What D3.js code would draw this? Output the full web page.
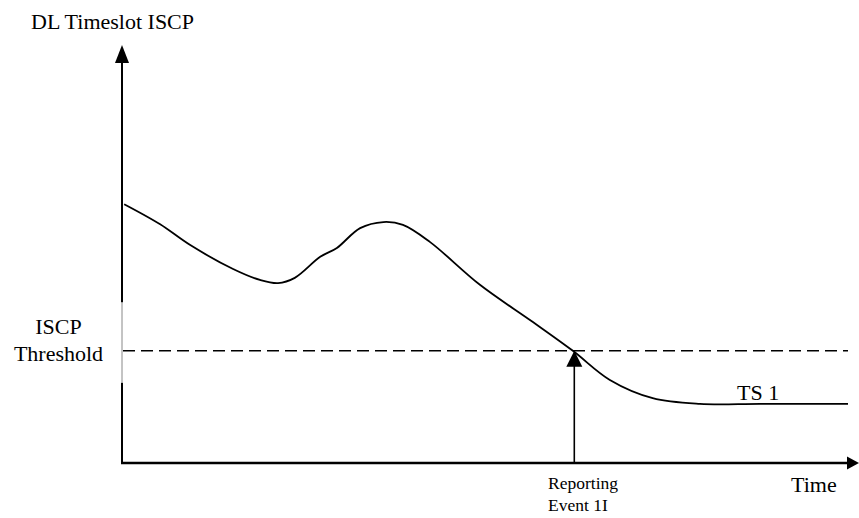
<!DOCTYPE html>
<html><head><meta charset="utf-8">
<script src="https://cdn.jsdelivr.net/npm/d3@7"></script>
<style>body{margin:0;background:#fff}svg{display:block}</style>
</head><body><svg id="c" width="859" height="518"></svg>
<script>
// data (time in %, ISCP in % of axis height)
const times = [0.3, 5.2, 9.4, 15.3, 19.0, 21.5, 23.8, 27.3, 29.6, 32.8, 36.0, 38.7, 42.4, 49.3, 56.6, 62.1, 67.2, 73.1, 79.6, 87.9, 100];
const iscp  = [63.9, 59.0, 53.8, 47.9, 45.2, 44.4, 45.7, 50.9, 53.1, 58.0, 59.5, 58.8, 54.6, 44.0, 34.8, 27.7, 20.5, 16.0, 14.6, 14.6, 14.6];
const threshold = 27.7;
const eventTime = 62.3;
const axisGap = [19.8, 39.7];
const labels = {y: "DL Timeslot ISCP", x: "Time", series: "TS 1", thr: ["ISCP", "Threshold"], ev: ["Reporting", "Event 1I"]};

const FONT = "Liberation Serif";
const svg = d3.select("#c");
const x = d3.scaleLinear().domain([0, 100]).range([122, 848]);
const y = d3.scaleLinear().domain([0, 100]).range([463, 58]);

// y axis
svg.append("line").attr("x1", x(0)).attr("x2", x(0)).attr("y1", y(0)+1).attr("y2", y(axisGap[0])).attr("stroke", "#000").attr("stroke-width", 2);
svg.append("line").attr("x1", x(0)).attr("x2", x(0)).attr("y1", y(axisGap[0])).attr("y2", y(axisGap[1])).attr("stroke", "#888").attr("stroke-width", 1);
svg.append("line").attr("x1", x(0)).attr("x2", x(0)).attr("y1", y(axisGap[1])).attr("y2", y(100)).attr("stroke", "#000").attr("stroke-width", 2);
svg.append("path").attr("d", `M${x(0)},${y(100)-13} L${x(0)-7},${y(100)+5} L${x(0)+7},${y(100)+5} Z`).attr("fill", "#000");

// x axis
svg.append("line").attr("x1", x(0)-1).attr("x2", x(100)).attr("y1", y(0)).attr("y2", y(0)).attr("stroke", "#000").attr("stroke-width", 2.5);
svg.append("path").attr("d", `M${x(100)+11},${y(0)} L${x(100)-1},${y(0)-6.5} L${x(100)-1},${y(0)+6.5} Z`).attr("fill", "#000");

// threshold
svg.append("line").attr("x1", x(0)+1).attr("x2", x(100)).attr("y1", y(threshold)).attr("y2", y(threshold))
  .attr("stroke", "#000").attr("stroke-width", 1.6).attr("stroke-dasharray", "12,6");

// curve
const line = d3.line().x((d,i)=>x(times[i])).y((d,i)=>y(iscp[i])).curve(d3.curveCatmullRom.alpha(0.5));
svg.append("path").attr("d", line(iscp)).attr("fill", "none").attr("stroke", "#000").attr("stroke-width", 1.8);

// event arrow
svg.append("line").attr("x1", x(eventTime)).attr("x2", x(eventTime)).attr("y1", y(0)).attr("y2", y(threshold)+14).attr("stroke", "#000").attr("stroke-width", 1.6);
svg.append("path").attr("d", `M${x(eventTime)},${y(threshold)} L${x(eventTime)-8},${y(threshold)+16} L${x(eventTime)+8},${y(threshold)+16} Z`).attr("fill", "#000");

// texts
function t(px, py, size, str, anchor) {
  svg.append("text").attr("x", px).attr("y", py).attr("font-size", size).style("font-family", FONT)
    .attr("fill", "#000").attr("text-anchor", anchor || "start").text(str);
}
t(31, 29, 22, labels.y);
t(58.5, 334, 22, labels.thr[0], "middle");
t(58.5, 361, 22, labels.thr[1], "middle");
t(737, 400, 22, labels.series);
t(791, 492, 22, labels.x);
t(548, 489, 17.5, labels.ev[0]);
t(548, 511, 17.5, labels.ev[1]);
</script></body></html>
